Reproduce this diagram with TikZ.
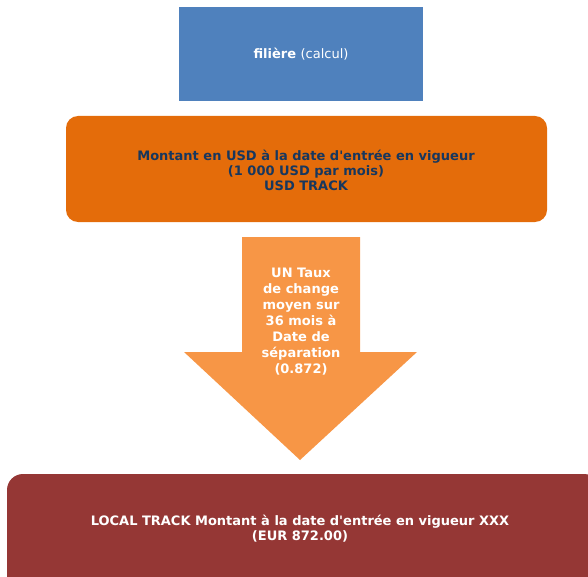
\documentclass[tikz,border=0pt]{standalone}
\usepackage{fontspec}
\setmainfont{DejaVu Sans}
\usetikzlibrary{positioning}

\definecolor{boxblue}{HTML}{4F81BD}
\definecolor{boxorange}{HTML}{E46C0A}
\definecolor{arroworange}{HTML}{F79646}
\definecolor{boxred}{HTML}{953735}
\definecolor{textnavy}{HTML}{17375E}

\tikzset{
	lbl/.style={align=center, font=\fontsize{13}{15}\selectfont\bfseries},
}

\begin{document}
\begin{tikzpicture}[x=1pt, y=-1pt]
		\useasboundingbox (0,0) rectangle (588,577);
		\clip (0,0) rectangle (588,577);
		% boxes
		\fill[boxblue] (179,7) rectangle (423,101);
		\fill[boxorange, rounded corners=12pt] (66,116) rectangle (547,222);
		\fill[arroworange] (242,237) -- (360,237) -- (360,352) -- (417,352)
			-- (300,460) -- (184,352) -- (242,352) -- cycle;
		\fill[boxred, rounded corners=16pt] (7,474) rectangle (600,600);
		% texts
		\node[lbl, white] (calc) at (301,54) {filière \mdseries(calcul)};
		\node[lbl, textnavy] (usd) at (306,170) {Montant en USD à la date d\textquotesingle entrée en vigueur\\(1 000 USD par mois)\\USD TRACK};
		\node[lbl, white, font=\fontsize{13}{16}\selectfont\bfseries] (taux) at (301,322) {UN Taux\\de change\\moyen sur\\36 mois à\\Date de\\séparation\\(0.872)};
		\node[lbl, white] (local) at (300,529) {LOCAL TRACK Montant à la date d\textquotesingle entrée en vigueur XXX\\(EUR 872.00)};
	\end{tikzpicture}
\end{document}
